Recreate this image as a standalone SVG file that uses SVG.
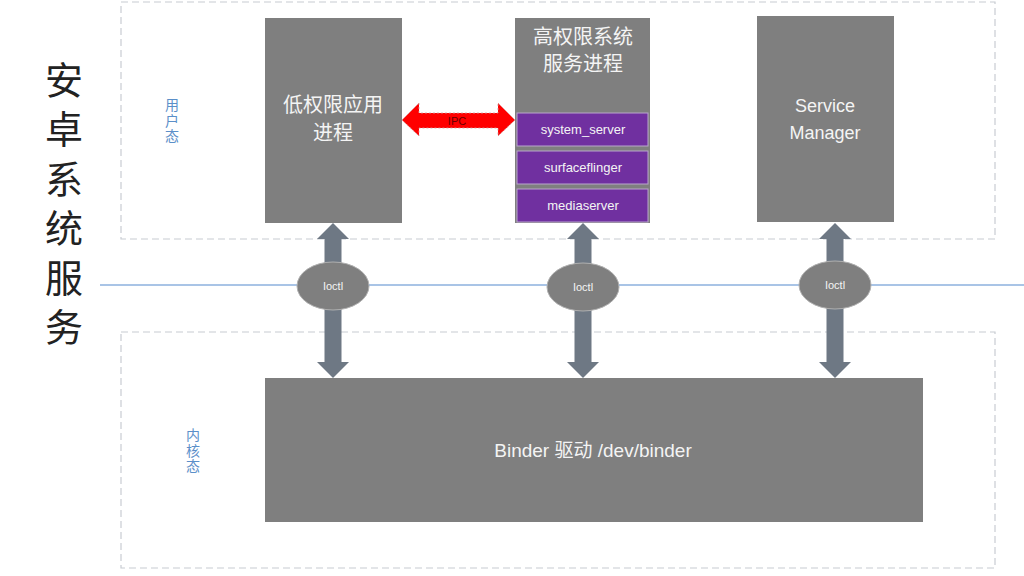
<svg xmlns="http://www.w3.org/2000/svg" width="1024" height="576" viewBox="0 0 1024 576">
<defs>
<style>
.zone{fill:none;stroke:#c8ccd2;stroke-width:1.2;stroke-dasharray:7 4}
.box{fill:#7f7f7f}
.sub{fill:#7030a0;stroke:#b9a6cc;stroke-width:1}
.wt{fill:#f4f4f4;font-family:"Liberation Sans","Noto Sans CJK SC",sans-serif;text-anchor:middle}
.cn{fill:#f4f4f4;font-family:"Noto Sans CJK SC",sans-serif;text-anchor:middle}
.lbl{fill:#5b8fc9;font-family:"Noto Sans CJK SC",sans-serif;font-size:14px;text-anchor:middle;writing-mode:vertical-rl;letter-spacing:1.5px}
.title{fill:#222;font-family:"Noto Sans CJK SC",sans-serif;font-size:38px;text-anchor:middle;writing-mode:vertical-rl;letter-spacing:11.5px}
.varr{fill:#6e7884}
.ell{fill:#7f7f7f;stroke:#b0b0b0;stroke-width:1}
</style>
</defs>
<rect width="1024" height="576" fill="#fff"/>
<g id="zones">
<rect class="zone" x="121" y="2" width="874" height="237"/>
<rect class="zone" x="121" y="332" width="874" height="236"/>
<line x1="100" y1="285" x2="1024" y2="285" stroke="#a9c4e6" stroke-width="2"/>
</g>
<g id="title">
<text class="title" x="64" y="209">安卓系统服务</text>
</g>
<g id="user-label">
<text class="lbl" x="172" y="121">用户态</text>
</g>
<g id="kernel-label">
<text class="lbl" x="193" y="451">内核态</text>
</g>
<g id="connectors">
<path fill="#ff0000" stroke="#c9a0a0" stroke-width="0.8" stroke-dasharray="2 2" d="M402,120 L419,103 L419,113 L498,113 L498,103 L515,120 L498,136 L498,128 L419,128 L419,136 Z"/>
<text x="457" y="125" font-family="Liberation Sans,sans-serif" font-size="11" fill="#6b0000" text-anchor="middle">IPC</text>
<path class="varr" d="M333,223 L349,239 L341.5,239 L341.5,362 L349,362 L333,378 L317,362 L324.5,362 L324.5,239 L317,239 Z"/>
<path class="varr" d="M583,223 L599,239 L591.5,239 L591.5,362 L599,362 L583,378 L567,362 L574.5,362 L574.5,239 L567,239 Z"/>
<path class="varr" d="M835,223 L851,239 L843.5,239 L843.5,362 L851,362 L835,378 L819,362 L826.5,362 L826.5,239 L819,239 Z"/>
<ellipse class="ell" cx="333" cy="286" rx="36" ry="24"/>
<text class="wt" x="333" y="290" font-size="11">Ioctl</text>
<ellipse class="ell" cx="583" cy="287" rx="36" ry="24"/>
<text class="wt" x="583" y="291" font-size="11">Ioctl</text>
<ellipse class="ell" cx="835" cy="285" rx="36" ry="24"/>
<text class="wt" x="835" y="289" font-size="11">Ioctl</text>
</g>
<g id="low-app">
<rect class="box" x="265" y="18" width="137" height="205"/>
<text class="cn" x="333" y="112" font-size="20">低权限应用</text>
<text class="cn" x="333" y="140" font-size="20">进程</text>
</g>
<g id="high-sys">
<rect class="box" x="515" y="18" width="135" height="205"/>
<text class="cn" x="583" y="44" font-size="20">高权限系统</text>
<text class="cn" x="583" y="71" font-size="20">服务进程</text>
</g>
<g id="system_server">
<rect class="sub" x="517" y="113" width="131" height="33"/>
<text class="wt" x="583" y="134" font-size="13">system_server</text>
</g>
<g id="surfaceflinger">
<rect class="sub" x="517" y="151" width="131" height="33"/>
<text class="wt" x="583" y="172" font-size="13">surfaceflinger</text>
</g>
<g id="mediaserver">
<rect class="sub" x="517" y="189" width="131" height="33"/>
<text class="wt" x="583" y="210" font-size="13">mediaserver</text>
</g>
<g id="service-manager">
<rect class="box" x="757" y="16" width="137" height="206"/>
<text class="wt" x="825" y="112" font-size="18">Service</text>
<text class="wt" x="825" y="139" font-size="18">Manager</text>
</g>
<g id="binder">
<rect class="box" x="265" y="378" width="658" height="144"/>
<text class="wt" x="593" y="457" font-size="19">Binder 驱动 /dev/binder</text>
</g>
</svg>
